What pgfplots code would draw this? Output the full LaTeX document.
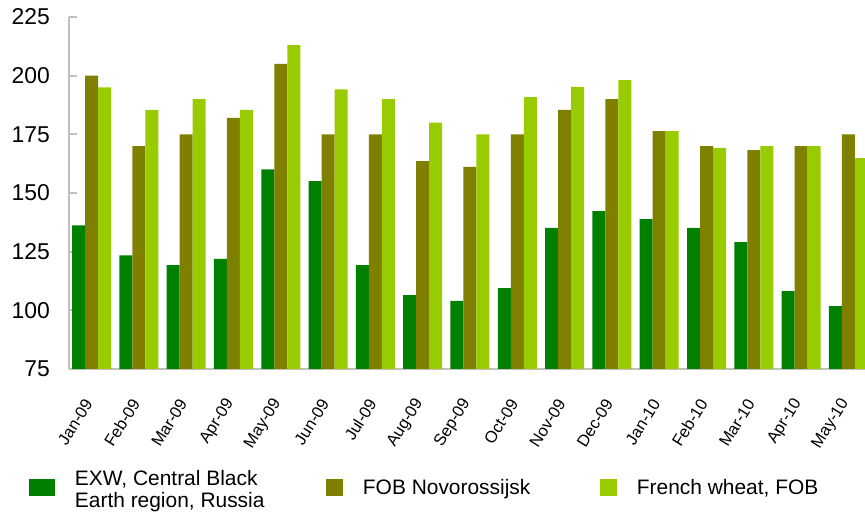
\documentclass[border=0pt]{standalone}
\usepackage{fontspec}
\setmainfont{Liberation Sans}
\usepackage{pgfplots}
\usepackage{pgfplotstable}
\pgfplotsset{compat=1.18}
\definecolor{cgreen}{RGB}{0,128,0}
\definecolor{colive}{RGB}{128,128,0}
\definecolor{clime}{RGB}{153,204,0}
\definecolor{caxis}{RGB}{192,192,192}
\pgfplotsset{
  legwide/.style={legend image code/.code={\fill[##1,draw=none] (0bp,-8.5bp) rectangle (26bp,8.5bp);}},
  legsq/.style={legend image code/.code={\fill[##1,draw=none] (0bp,-8.5bp) rectangle (17bp,8.5bp);}},
}
\pgfplotstableread{
m g o l
0 136.2 200 195
1 123.4 170 185.4
2 119.3 175 190
3 121.9 182 185.4
4 160.1 205 213
5 155.1 175 194.2
6 119.3 175 190
7 106.5 163.6 180
8 104 161.1 175
9 109.5 175 190.9
10 135.1 185.4 195.2
11 142.3 190 198.1
12 138.9 176.4 176.4
13 135.1 170 169.2
14 129.1 168.3 170
15 108.2 170 170
16 101.8 175 164.9
}\datatable
\begin{document}
\begin{tikzpicture}
\useasboundingbox (0bp,0bp) rectangle (865bp,514bp);
\begin{axis}[
  at={(69bp,145bp)}, anchor=south west,
  scale only axis, width=796bp, height=352bp,
  xmin=-0.476, xmax=16.35, ymin=75, ymax=225,
  ytick={75,100,...,225},
  xtick=data,
  xticklabels={Jan-09,Feb-09,Mar-09,Apr-09,May-09,Jun-09,Jul-09,Aug-09,Sep-09,Oct-09,Nov-09,Dec-09,Jan-10,Feb-10,Mar-10,Apr-10,May-10},
  axis x line*=bottom, axis y line*=left,
  axis line style={caxis, line width=2bp},
  tick align=inside,
  major tick length=8bp,
  major y tick style={caxis, line width=2bp},
  major x tick style={draw=none},
  /pgf/number format/assume math mode=true,
  yticklabel style={font=\fontsize{23}{26}\selectfont, inner sep=0pt, anchor=east, xshift=-19bp},
  xticklabel style={font=\fontsize{16.5}{19}\selectfont, inner sep=0pt, xshift=-3bp, yshift=-23.5bp, rotate=58, anchor=east},
  ybar=0pt, bar width=13bp,
  legend columns=3,
  legend style={at={(-0.0503,-0.338)}, anchor=west, draw=none, fill=none, inner sep=0pt, outer sep=0pt,
    font=\fontsize{21}{22}\selectfont,
    nodes={inner sep=0pt},
    /tikz/every odd column/.append style={column sep=20bp}},
  legend cell align=left,
]
\addplot[fill=cgreen, draw=none, legwide] table[x=m, y=g] {\datatable};
\addplot[fill=colive, draw=none, legsq] table[x=m, y=o] {\datatable};
\addplot[fill=clime, draw=none, legsq] table[x=m, y=l] {\datatable};
\addlegendentry{\raisebox{8bp}{\parbox[c]{251bp}{\fontsize{21}{22}\selectfont EXW, Central Black\\Earth region, Russia}}}
\addlegendentry{\makebox[237bp][l]{FOB Novorossijsk}}
\addlegendentry{French wheat, FOB}
\end{axis}
\end{tikzpicture}
\end{document}
